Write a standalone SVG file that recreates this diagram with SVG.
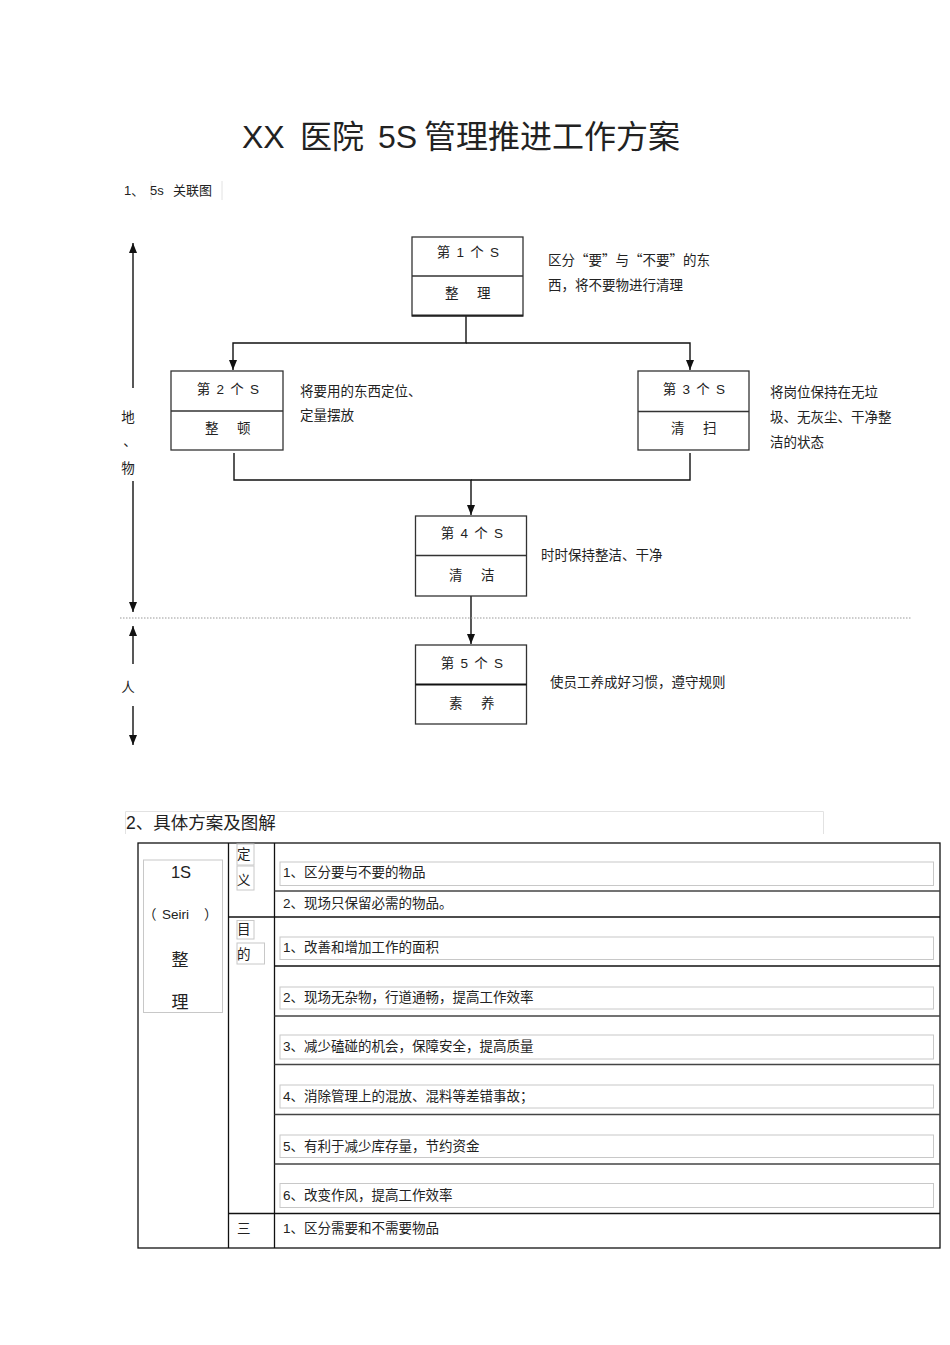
<svg xmlns="http://www.w3.org/2000/svg" width="950" height="1345" viewBox="0 0 950 1345">
<style>
text{font-family:"Liberation Sans","Noto Sans CJK SC",sans-serif;fill:#222}
.t13{font-size:13.5px}
.c{text-anchor:middle}
.hd{word-spacing:2.5px}
.pr{letter-spacing:2.5px}
.q{font-family:"Noto Sans CJK SC",sans-serif}
.box{fill:#fff;stroke:#333;stroke-width:1.3}
.div{stroke:#333;stroke-width:1.3}
.con{fill:none;stroke:#111;stroke-width:1.4}
.faint{stroke:#e2e2e2;stroke-width:1;fill:none}
.tb{stroke:#111;stroke-width:1.3;fill:none}
.rl{stroke:#444;stroke-width:1.6;fill:none}
.ib{stroke:#c8c8c8;stroke-width:1;fill:#fff}
</style>
<defs>
<marker id="ah" viewBox="0 0 10 8" refX="10" refY="4" markerWidth="10" markerHeight="8" markerUnits="userSpaceOnUse" orient="auto">
<path d="M0,0 L10,4 L0,8 z" fill="#111"/>
</marker>
</defs>
<rect width="950" height="1345" fill="#fff"/>

<text x="242" y="148" style="font-size:32px">XX<tspan x="300">医院</tspan><tspan x="378">5S</tspan><tspan x="424">管理推进工作方案</tspan></text>

<g id="heading1">
<line class="faint" x1="151" y1="181" x2="151" y2="200"/>
<line class="faint" x1="222" y1="181" x2="222" y2="200"/>
<text x="124" y="195" style="font-size:13px">1、<tspan x="150">5s</tspan><tspan x="173">关联图</tspan></text>
</g>

<g id="connectors">
<path class="con" d="M466,316 V343 H233 V370" marker-end="url(#ah)"/>
<path class="con" d="M466,343 H690 V370" marker-end="url(#ah)"/>
<path class="con" d="M234,453 V480 H471 V515" marker-end="url(#ah)"/>
<path class="con" d="M690,453 V480 H471"/>
<path class="con" d="M471,596 V644" marker-end="url(#ah)"/>
<path class="con" d="M133,388 V243" marker-end="url(#ah)"/>
<path class="con" d="M133,481 V612" marker-end="url(#ah)"/>
<path class="con" d="M133,664 V626" marker-end="url(#ah)"/>
<path class="con" d="M133,706 V745" marker-end="url(#ah)"/>
</g>

<g id="axis-labels">
<text class="c t13" x="128" y="422">地</text>
<text class="c t13" x="130" y="446">、</text>
<text class="c t13" x="128" y="473">物</text>
<text class="c t13" x="128" y="692">人</text>
</g>

<line x1="120" y1="618" x2="912" y2="618" stroke="#999" stroke-width="1" stroke-dasharray="1.5,1.5"/>

<g id="s1">
<rect class="box" x="412" y="237" width="111" height="79"/>
<line class="div" x1="412" y1="276" x2="523" y2="276"/>
<line x1="412" y1="315.5" x2="523" y2="315.5" stroke="#222" stroke-width="2"/>
<text class="c t13 hd" x="468" y="257">第 1 个 S</text>
<text class="c t13 pr" x="469" y="298">整　理</text>
<text class="t13" x="548" y="265">区分<tspan class="q">“</tspan>要<tspan class="q">”</tspan>与<tspan class="q">“</tspan>不要<tspan class="q">”</tspan>的东</text>
<text class="t13" x="548" y="290">西，将不要物进行清理</text>
</g>

<g id="s2">
<rect class="box" x="171" y="371" width="112" height="79"/>
<line class="div" x1="171" y1="411" x2="283" y2="411"/>
<text class="c t13 hd" x="228" y="394">第 2 个 S</text>
<text class="c t13 pr" x="229" y="433">整　顿</text>
<text class="t13" x="300" y="396">将要用的东西定位、</text>
<text class="t13" x="300" y="420">定量摆放</text>
</g>

<g id="s3">
<rect class="box" x="638" y="371" width="111" height="79"/>
<line class="div" x1="638" y1="411.5" x2="749" y2="411.5"/>
<text class="c t13 hd" x="694" y="394">第 3 个 S</text>
<text class="c t13 pr" x="695" y="433">清　扫</text>
<text class="t13" x="770" y="397">将岗位保持在无垃</text>
<text class="t13" x="770" y="422">圾、无灰尘、干净整</text>
<text class="t13" x="770" y="447">洁的状态</text>
</g>

<g id="s4">
<rect class="box" x="415.5" y="516" width="111" height="80"/>
<line class="div" x1="415.5" y1="555.5" x2="526.5" y2="555.5"/>
<text class="c t13 hd" x="472" y="538">第 4 个 S</text>
<text class="c t13 pr" x="473" y="580">清　洁</text>
<text class="t13" x="541" y="560">时时保持整洁、干净</text>
</g>

<g id="s5">
<rect class="box" x="415.5" y="645" width="111" height="79"/>
<line x1="415.5" y1="684.5" x2="526.5" y2="684.5" stroke="#111" stroke-width="2"/>
<text class="c t13 hd" x="472" y="668">第 5 个 S</text>
<text class="c t13 pr" x="473" y="708">素　养</text>
<text class="t13" x="550" y="687">使员工养成好习惯，遵守规则</text>
</g>

<g id="heading2">
<path class="faint" d="M125.5,834 V811.5 H823.5 V834"/>
<text x="126" y="829" style="font-size:17.5px">2、具体方案及图解</text>
</g>

<g id="table">
<rect class="tb" x="138" y="843" width="802" height="405"/>
<line class="tb" x1="228.5" y1="843" x2="228.5" y2="1248"/>
<line class="tb" x1="274.5" y1="843" x2="274.5" y2="1248"/>
<line class="tb" x1="228.5" y1="917" x2="940" y2="917"/>
<line class="tb" x1="228.5" y1="1213.5" x2="940" y2="1213.5"/>
<line class="rl" x1="274.5" y1="891" x2="940" y2="891"/>
<line class="tb" x1="274.5" y1="966" x2="940" y2="966"/>
<line class="rl" x1="274.5" y1="1016" x2="940" y2="1016"/>
<line class="rl" x1="274.5" y1="1064.5" x2="940" y2="1064.5"/>
<line class="rl" x1="274.5" y1="1114.5" x2="940" y2="1114.5"/>
<line class="rl" x1="274.5" y1="1164" x2="940" y2="1164"/>
</g>

<g id="cell-1s">
<rect class="ib" x="143.5" y="860" width="79" height="152.5" stroke="#ddd"/>
<text class="c" x="181" y="878" style="font-size:16.5px">1S</text>
<text x="143" y="919" style="font-size:13.5px">（<tspan x="162">Seiri</tspan><tspan x="204">）</tspan></text>
<text class="c" x="180" y="966" style="font-size:17px">整</text>
<text class="c" x="180" y="1008" style="font-size:17px">理</text>
</g>

<g id="cell-def">
<rect class="ib" x="237" y="844" width="17" height="21"/>
<rect class="ib" x="237" y="866" width="17" height="24"/>
<text class="t13" x="237" y="859">定</text>
<text class="t13" x="237" y="885">义</text>
</g>

<g id="cell-purpose">
<rect class="ib" x="237" y="920.5" width="17" height="18.5"/>
<rect class="ib" x="237" y="943" width="27.5" height="21"/>
<text class="t13" x="237" y="934">目</text>
<text class="t13" x="237" y="959">的</text>
</g>

<g id="items">
<rect class="ib" x="280" y="862" width="653.5" height="23.5"/>
<text class="t13" x="283" y="877">1、区分要与不要的物品</text>
<text class="t13" x="283" y="908">2、现场只保留必需的物品。</text>
<rect class="ib" x="280" y="937" width="653.5" height="22.5"/>
<text class="t13" x="283" y="952">1、改善和增加工作的面积</text>
<rect class="ib" x="280" y="987" width="653.5" height="22"/>
<text class="t13" x="283" y="1002">2、现场无杂物，行道通畅，提高工作效率</text>
<rect class="ib" x="280" y="1035" width="653.5" height="24"/>
<text class="t13" x="283" y="1051">3、减少磕碰的机会，保障安全，提高质量</text>
<rect class="ib" x="280" y="1085" width="653.5" height="23"/>
<text class="t13" x="283" y="1101">4、消除管理上的混放、混料等差错事故；</text>
<rect class="ib" x="280" y="1135" width="653.5" height="22.5"/>
<text class="t13" x="283" y="1151">5、有利于减少库存量，节约资金</text>
<rect class="ib" x="280" y="1183.5" width="653.5" height="24"/>
<text class="t13" x="283" y="1200">6、改变作风，提高工作效率</text>
<text class="t13" x="237" y="1233">三</text>
<text class="t13" x="283" y="1233">1、区分需要和不需要物品</text>
</g>
</svg>
